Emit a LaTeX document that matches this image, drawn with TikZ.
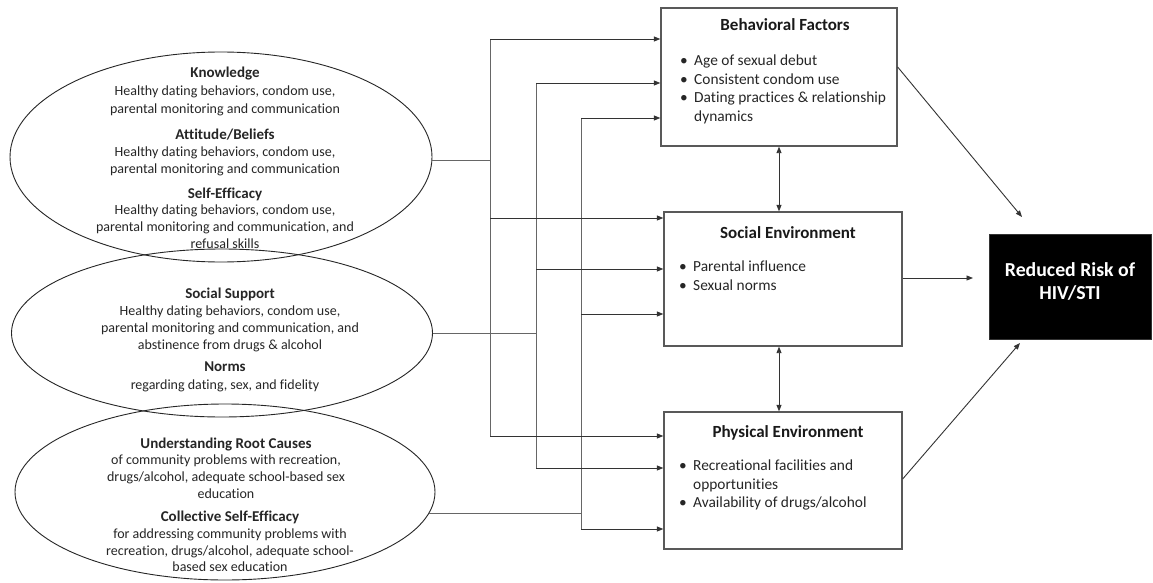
\documentclass[tikz,border=0pt]{standalone}
\usepackage{fontspec}
\setmainfont{Carlito}[Ligatures=CommonOff]
\usetikzlibrary{shapes.geometric,arrows.meta,calc}
\newcommand\bul{\makebox[14pt][l]{•}}
\newcommand\hdf{\fontsize{15}{16.8}\selectfont\bfseries}
\begin{document}
\begin{tikzpicture}[x=1pt,y=-1pt,
  oval/.style={draw=black!85, line width=0.9pt, ellipse, inner sep=0pt},
  boxnode/.style={draw=black!65, line width=1.3pt, rectangle, inner sep=0pt},
  txt/.style={font=\fontsize{14}{16.8}\selectfont, align=center, inner sep=0pt, text=black!85},
  hd/.style={font=\fontsize{17}{19}\selectfont\bfseries, inner sep=0pt, text=black!90},
  lst/.style={font=\fontsize{15.4}{18.5}\selectfont, align=left, inner sep=0pt, anchor=west, text=black!85},
  bus/.style={draw=black!60, line width=0.8pt},
  arr/.style={draw=black!80, line width=0.9pt, -{Triangle[length=6.5pt,width=5pt]}},
  arrd/.style={draw=black!80, line width=0.9pt, {Triangle[length=6.5pt,width=5pt]}-{Triangle[length=6.5pt,width=5pt]}}
]
\useasboundingbox (0,0) rectangle (1153,583);
\fill[white] (0,0) rectangle (1153,583);

% ellipses
\node[oval, minimum width=422pt, minimum height=210pt] (e1) at (221,157) {};
\node[oval, minimum width=421pt, minimum height=168pt] (e2) at (222,333) {};
\node[oval, minimum width=420pt, minimum height=176pt] (e3) at (225,492) {};

% ellipse texts
\node[txt] (k) at (225,91.5) {{\hdf Knowledge}\\[1.5pt]Healthy dating behaviors, condom use,\\[1.5pt]parental monitoring and communication};
\node[txt] (a) at (225,152.5) {{\hdf Attitude/Beliefs}\\Healthy dating behaviors, condom use,\\parental monitoring and communication};
\node[txt] (s) at (225,218) {{\hdf Self-Efficacy}\\Healthy dating behaviors, condom use,\\parental monitoring and communication, and\\refusal skills};
\node[txt] (ss) at (230,320) {{\hdf Social Support}\\Healthy dating behaviors, condom use,\\parental monitoring and communication, and\\abstinence from drugs \& alcohol};
\node[txt] (n) at (225,376.5) {{\hdf Norms}\\[1.5pt]regarding dating, sex, and fidelity};
\node[txt] (u) at (226,468) {{\hdf Understanding Root Causes}\\of community problems with recreation,\\drugs/alcohol, adequate school-based sex\\education};
\node[txt] (c) at (230,541.5) {{\hdf Collective Self-Efficacy}\\for addressing community problems with\\recreation, drugs/alcohol, adequate school-\\based sex education};

% boxes
\node[boxnode, minimum width=236pt, minimum height=138pt] (beh) at (779,77) {};
\node[boxnode, minimum width=238pt, minimum height=134pt] (soc) at (783,279) {};
\node[boxnode, minimum width=238pt, minimum height=137pt] (phy) at (783,480.5) {};
\node[fill=black, draw=black!80, line width=1pt, minimum width=162pt, minimum height=105pt, inner sep=0pt] (out) at (1070,286.5) {};

\node[hd] (behh) at (785,25) {Behavioral Factors};
\node[lst] (behl) at (680,89.5) {\bul Age of sexual debut\\\bul Consistent condom use\\\bul Dating practices \& relationship\\\hspace*{14pt}dynamics};
\node[hd] (soch) at (788,233) {Social Environment};
\node[lst] (socl) at (679,275.5) {\bul Parental influence\\\bul Sexual norms};
\node[hd] (phyh) at (788,433) {Physical Environment};
\node[lst] (phyl) at (679,485) {\bul Recreational facilities and\\\hspace*{14pt}opportunities\\\bul Availability of drugs/alcohol};
\node[font=\fontsize{19.8}{23}\selectfont\bfseries, text=white, align=center, inner sep=0pt] (outt) at (1070,282) {Reduced Risk of\\HIV/STI};

% bus coordinates
\coordinate (b1t) at (490,39);  \coordinate (b1m) at (490,218); \coordinate (b1b) at (490,436);
\coordinate (b2t) at (536,83);  \coordinate (b2m) at (536,269); \coordinate (b2b) at (536,468);
\coordinate (b3t) at (581,118); \coordinate (b3m) at (581,314); \coordinate (b3b) at (581,529);

% ellipse connectors
\draw[bus] (e1.-1) -- (e1.-1 -| b1t);
\draw[bus] (e2.east) -- (e2.east -| b2t);
\draw[bus] (e3.-6) -- (e3.-6 -| b3t);

% buses
\draw[bus] (b1t) -- (b1b);
\draw[bus] (b2t) -- (b2b);
\draw[bus] (b3t) -- (b3b);

% arrows into boxes
\draw[arr] (b1t) -- (b1t -| beh.west);
\draw[arr] (b2t) -- (b2t -| beh.west);
\draw[arr] (b3t) -- (b3t -| beh.west);
\draw[arr] (b1m) -- (b1m -| soc.west);
\draw[arr] (b2m) -- (b2m -| soc.west);
\draw[arr] (b3m) -- (b3m -| soc.west);
\draw[arr] (b1b) -- (b1b -| phy.west);
\draw[arr] (b2b) -- (b2b -| phy.west);
\draw[arr] (b3b) -- (b3b -| phy.west);

% double arrows
\draw[arrd] (beh.south) -- (beh.south |- soc.north);
\draw[arrd] (soc.south -| beh.south) -- (phy.north -| beh.south);

% arrows to outcome
\coordinate (t1) at (1022,217);
\coordinate (t2) at (973,278);
\coordinate (t3) at (1020,343);
\draw[arr] (beh.east |- 0,67) -- (t1);
\draw[arr] (soc.east |- 0,278) -- (t2);
\draw[arr] (phy.east |- 0,479) -- (t3);
\end{tikzpicture}
\end{document}
